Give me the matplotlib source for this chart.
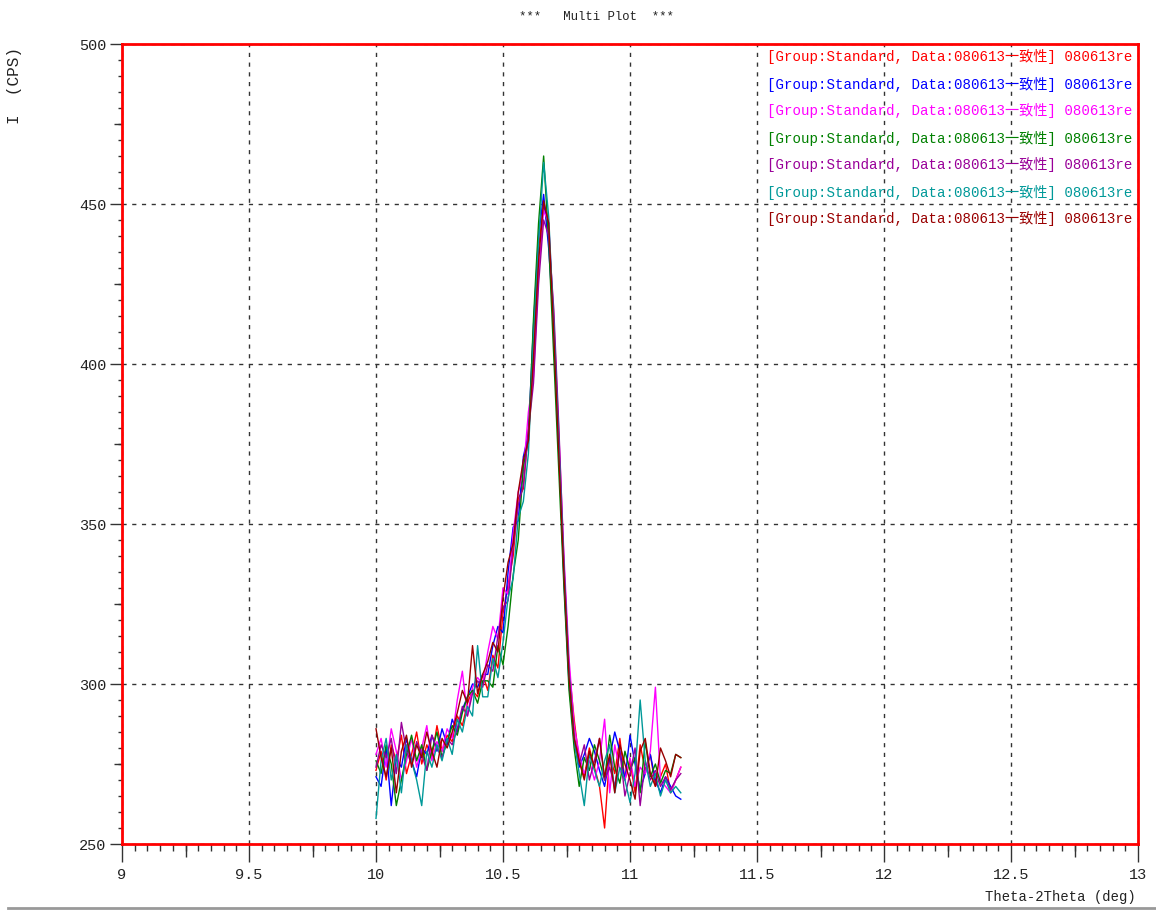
import matplotlib
matplotlib.use('Agg')

import matplotlib.pyplot as plt
from matplotlib.lines import Line2D
from matplotlib.ticker import MultipleLocator

# scan axis: 10.00 .. 11.20 deg in 0.02 deg steps
two_theta = [round(10.0 + 0.02 * i, 2) for i in range(61)]

cps_red = [273, 279, 270, 281, 276, 284, 272, 278, 285, 275, 281, 277, 287, 279, 284,
           282, 290, 287, 294, 298, 296, 303, 298, 309, 305,
           322, 331, 340, 358, 361, 380, 398, 436,
           450,
           442, 410, 372, 336, 305, 289, 276, 271, 280,
           274, 268, 255, 278, 272, 283, 270, 276, 266, 281, 273, 278, 268, 271, 275, 266, 270, 274]
cps_blue = [271, 268, 280, 262, 277, 274, 283, 276, 271, 280, 278, 284, 279, 286, 281,
            289, 285, 292, 296, 300, 299, 303, 303, 312, 318,
            316, 335, 349, 351, 371, 378, 412, 440,
            453,
            436, 411, 375, 332, 300, 282, 274, 278, 283,
            279, 273, 268, 277, 285, 279, 270, 284, 275, 267, 272, 278, 270, 266, 271, 268, 265, 264]
cps_magenta = [278, 283, 274, 286, 279, 270, 276, 283, 274, 280, 287, 276, 282, 279, 286,
               283, 295, 304, 290, 299, 302, 300, 310, 318, 314,
               330, 328, 347, 360, 366, 385, 396, 428,
               448,
               444, 414, 378, 340, 308, 287, 278, 272, 276,
               270, 276, 289, 266, 281, 273, 270, 277, 268, 274, 272, 279, 299, 270, 268, 266, 270, 274]
cps_green = [276, 272, 281, 275, 262, 270, 278, 284, 276, 281, 273, 279, 285, 277, 282,
             287, 284, 291, 296, 298, 294, 301, 301, 299, 312,
             306, 318, 334, 345, 368, 376, 414, 444,
             465,
             438, 402, 366, 330, 298, 280, 268, 277, 273,
             281, 276, 270, 284, 274, 269, 279, 273, 277, 266, 282, 271, 275, 269, 273, 272, 278, 277]
cps_purple = [274, 281, 277, 283, 272, 288, 279, 275, 282, 278, 273, 284, 280, 277, 283,
              281, 286, 293, 290, 297, 301, 299, 306, 304, 315,
              324, 326, 343, 356, 362, 379, 394, 425,
              445,
              440, 417, 380, 338, 304, 284, 275, 281, 270,
              276, 283, 270, 274, 268, 279, 265, 272, 280, 262, 276, 270, 273, 268, 271, 267, 270, 272]
cps_teal = [258, 276, 283, 270, 278, 266, 281, 276, 270, 262, 279, 274, 281, 276, 283,
            278, 289, 285, 293, 290, 312, 296, 296, 308, 302,
            313, 327, 333, 352, 357, 372, 408, 438,
            463,
            446, 412, 374, 336, 303, 283, 272, 262, 278,
            273, 268, 276, 281, 266, 274, 270, 263, 272, 295, 276, 268, 272, 265, 270, 266, 268, 266]
cps_brown = [286, 277, 271, 280, 266, 279, 284, 274, 281, 277, 285, 279, 274, 283, 280,
             285, 291, 298, 294, 312, 297, 303, 307, 313, 310,
             327, 338, 344, 360, 370, 376, 402, 432,
             451,
             444, 409, 371, 334, 302, 283, 276, 270, 279,
             274, 283, 271, 278, 266, 281, 275, 270, 264, 279, 283, 272, 268, 280, 276, 271, 278, 277]

series = [cps_red, cps_blue, cps_magenta, cps_green, cps_purple, cps_teal, cps_brown]
colors = ['#ff0000', '#0000ff', '#ff00ff', '#008000', '#990099', '#009999', '#990000']
names = ['[Group:Standard, Data:080613一致性] 080613re'] * 7

x_ticks = [9, 9.5, 10, 10.5, 11, 11.5, 12, 12.5, 13]
x_labels = ['9', '9.5', '10', '10.5', '11', '11.5', '12', '12.5', '13']
y_ticks = [250, 300, 350, 400, 450, 500]

MONO = ['Liberation Mono', 'Noto Sans CJK SC']

fig = plt.figure(figsize=(11.56, 9.10), dpi=100)
ax = fig.add_axes([122 / 1156, 1 - 844 / 910, (1138 - 122) / 1156, (844 - 44) / 910])

for ys, c in zip(series, colors):
    ax.plot(two_theta, ys, color=c, linewidth=1)

ax.set_xlim(9, 13)
ax.set_ylim(250, 500)
ax.set_xticks(x_ticks)
ax.set_xticklabels(x_labels)
ax.set_yticks(y_ticks)
ax.xaxis.set_minor_locator(MultipleLocator(0.05))
ax.yaxis.set_minor_locator(MultipleLocator(5))
ax.tick_params(axis='x', which='major', direction='out', length=13, width=1, color='#333333', pad=4)
ax.tick_params(axis='x', which='minor', direction='out', length=5, width=1, color='#333333')
ax.tick_params(axis='y', which='major', direction='out', length=9, width=1, color='#333333', pad=2)
ax.tick_params(axis='y', which='minor', direction='out', length=3, width=1, color='#333333')
for lab in ax.get_xticklabels() + ax.get_yticklabels():
    lab.set_family('Liberation Mono')
    lab.set_fontsize(11)
    lab.set_color('#222222')

# in-between ticks at 0.25 deg and 25 cps
secx = ax.secondary_xaxis('bottom')
secx.set_xticks([9.25, 9.75, 10.25, 10.75, 11.25, 11.75, 12.25, 12.75])
secx.tick_params(direction='out', length=9, width=1, color='#333333', labelbottom=False)
secx.spines['bottom'].set_visible(False)
secy = ax.secondary_yaxis('left')
secy.set_yticks([275, 325, 375, 425, 475])
secy.tick_params(direction='out', length=6, width=1, color='#333333', labelleft=False)
secy.spines['left'].set_visible(False)

ax.grid(True, which='major', color='#333333', linestyle=(0, (3, 4)), linewidth=1)

for sp in ax.spines.values():
    sp.set_color('#ff0000')
    sp.set_linewidth(2)

# series names in their own colours, top right inside the frame
for k, (name, c) in enumerate(zip(names, colors)):
    fig.text(1132 / 1156, 1 - (57 + 27 * k) / 910, name, color=c, family=MONO,
             fontsize=10.2, ha='right', va='center')

fig.text(0.516, 1 - 17 / 910, '***   Multi Plot  ***', family=MONO, fontsize=8.8,
         ha='center', va='center', color='#222222')
fig.text(15 / 1156, 1 - 85 / 910, 'I  (CPS)', family=MONO, fontsize=11.5, rotation=90,
         ha='center', va='center', color='#222222')
fig.text(1136 / 1156, 1 - 897 / 910, 'Theta-2Theta (deg)', family=MONO, fontsize=10,
         ha='right', va='center', color='#222222')

fig.add_artist(Line2D([8 / 1156, 1], [2 / 910, 2 / 910], color='#999999', linewidth=2))

plt.savefig('out.png', dpi=100)
